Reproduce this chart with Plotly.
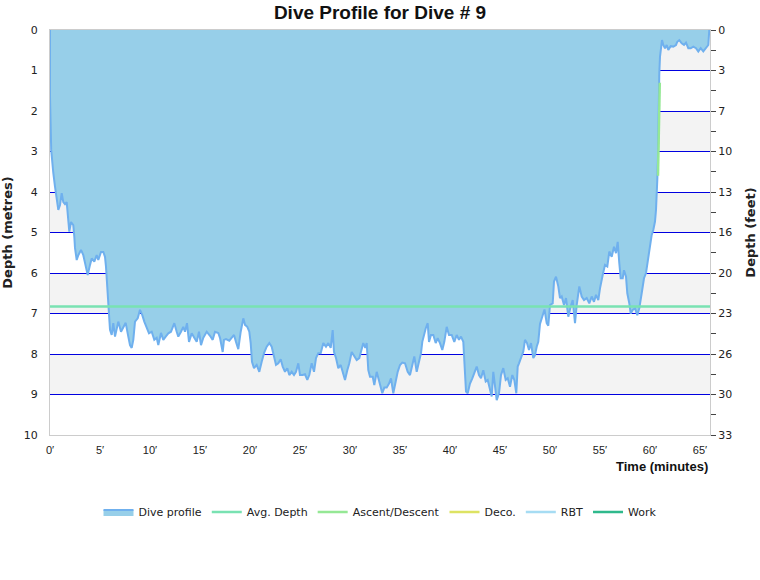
import plotly.graph_objects as go

# ---- data ----
time_min = [0.0, 0.0, 0.12, 0.23, 0.33, 0.5, 0.67, 0.83, 1.0, 1.17, 1.33, 1.5, 1.67, 1.83, 1.93, 2.1, 2.33, 2.43, 2.5, 2.67, 2.83,
            3.1, 3.33, 3.5, 3.77, 4.0, 4.17, 4.43, 4.67, 4.83, 5.1, 5.33, 5.5, 5.6, 5.7, 5.77, 5.9, 6.0, 6.17, 6.33, 6.5,
            6.67, 6.83, 7.1, 7.33, 7.57, 7.83, 8.0, 8.17, 8.33, 8.5, 8.77, 9.0, 9.23, 9.43, 9.67, 9.9, 10.17, 10.43, 10.67,
            10.83, 11.1, 11.33, 11.57, 11.83, 12.1, 12.43, 12.67, 12.83, 13.1, 13.33, 13.5, 13.7, 13.9, 14.17, 14.43,
            14.67, 14.9, 15.1, 15.33, 15.67, 16.0, 16.27, 16.5, 16.83, 17.0, 17.27, 17.4, 17.6, 17.93, 18.17, 18.4, 18.6,
            18.83, 19.07, 19.33, 19.5, 19.73, 19.93, 20.07, 20.2, 20.4, 20.67, 20.93, 21.17, 21.4, 21.67, 21.93, 22.17,
            22.4, 22.6, 22.83, 23.07, 23.27, 23.5, 23.73, 23.93, 24.17, 24.4, 24.6, 24.83, 25.0, 25.27, 25.5, 25.73,
            25.93, 26.17, 26.4, 26.6, 26.83, 27.07, 27.33, 27.6, 27.83, 28.07, 28.27, 28.4, 28.6, 28.83, 29.07, 29.27,
            29.5, 29.73, 29.93, 30.17, 30.4, 30.67, 30.93, 31.17, 31.33, 31.53, 31.67, 31.83, 32.0, 32.27, 32.43, 32.67,
            32.85, 33.0, 33.23, 33.43, 33.67, 33.9, 34.1, 34.33, 34.57, 34.77, 35.0, 35.23, 35.5, 35.77, 36.0, 36.23,
            36.43, 36.67, 36.9, 37.1, 37.23, 37.43, 37.57, 37.77, 37.9, 38.1, 38.33, 38.57, 38.77, 39.0, 39.23, 39.43,
            39.67, 39.9, 40.17, 40.43, 40.67, 40.9, 41.1, 41.33, 41.5, 41.6, 41.77, 42.0, 42.23, 42.43, 42.67, 42.9,
            43.1, 43.33, 43.57, 43.77, 44.0, 44.17, 44.33, 44.5, 44.67, 44.9, 45.1, 45.33, 45.57, 45.77, 46.0, 46.23,
            46.43, 46.63, 46.77, 46.9, 47.1, 47.33, 47.5, 47.7, 47.9, 48.1, 48.33, 48.5, 48.67, 48.83, 49.0, 49.23,
            49.45, 49.67, 49.83, 50.0, 50.27, 50.4, 50.6, 50.83, 51.0, 51.17, 51.4, 51.6, 51.83, 52.07, 52.27, 52.5,
            52.67, 52.93, 53.17, 53.4, 53.67, 53.93, 54.17, 54.4, 54.6, 54.83, 55.0, 55.27, 55.5, 55.73, 55.93, 56.17,
            56.4, 56.6, 56.77, 56.93, 57.07, 57.27, 57.4, 57.6, 57.73, 57.93, 58.07, 58.27, 58.5, 58.73, 58.93, 59.17,
            59.4, 59.6, 59.73, 59.93, 60.07, 60.17, 60.33, 60.5, 60.6, 60.67, 60.73, 60.8, 60.83, 60.9, 60.93, 61.0,
            61.1, 61.2, 61.33, 61.5, 61.67, 61.83, 62.07, 62.33, 62.6, 62.73, 62.93, 63.17, 63.4, 63.6, 63.83, 64.07,
            64.33, 64.6, 64.83, 65.07, 65.33, 65.6, 65.83, 65.93]
depth_m = [0.0, 1.65, 2.96, 3.3, 3.53, 3.87, 4.15, 4.44, 4.32, 4.03, 4.25, 4.3, 4.25, 4.69, 4.98, 4.74, 4.82, 5.1, 5.38, 5.68, 5.56,
           5.43, 5.56, 5.75, 6.05, 5.8, 5.64, 5.72, 5.56, 5.68, 5.48, 5.48, 5.6, 5.85, 6.25, 6.67, 7.2, 7.4, 7.53, 7.24, 7.57,
           7.41, 7.2, 7.45, 7.33, 7.23, 7.57, 7.78, 7.85, 7.65, 7.2, 7.12, 6.91, 7.04, 7.2, 7.33, 7.49, 7.45, 7.65, 7.6,
           7.78, 7.48, 7.65, 7.57, 7.49, 7.45, 7.24, 7.45, 7.57, 7.45, 7.33, 7.45, 7.24, 7.7, 7.49, 7.6,
           7.7, 7.45, 7.78, 7.6, 7.45, 7.55, 7.65, 7.45, 7.48, 7.6, 7.95, 7.65, 7.63, 7.67, 7.6, 7.53, 7.7,
           7.88, 7.45, 7.12, 7.28, 7.33, 7.45, 7.73, 8.19, 8.35, 8.27, 8.44, 8.19, 7.98, 7.82, 7.73, 7.82,
           8.03, 8.27, 8.23, 8.13, 8.31, 8.44, 8.35, 8.52, 8.44, 8.52, 8.44, 8.23, 8.52, 8.52, 8.5, 8.64,
           8.52, 8.23, 8.44, 8.1, 7.98, 7.98, 7.73, 7.82, 7.73, 7.85, 7.41, 7.95, 8.1, 8.35, 8.27, 8.44,
           8.64, 8.4, 8.23, 7.95, 8.03, 8.15, 8.1, 7.9, 7.73, 7.85, 7.73, 8.4, 8.56, 8.56, 8.77, 8.44,
           8.6, 8.77, 8.97, 8.83, 8.83, 8.73, 8.6, 8.97, 8.64, 8.44, 8.27, 8.21, 8.23, 8.44, 8.52, 8.31,
           8.06, 8.44, 8.15, 7.98, 7.7, 7.49, 7.37, 7.24, 7.7, 7.53, 7.53, 7.73, 7.61, 7.73, 7.9, 7.7,
           7.33, 7.53, 7.53, 7.7, 7.53, 7.65, 7.57, 7.7, 8.44, 8.93, 8.97, 8.73, 8.6, 8.44, 8.31, 8.52,
           8.6, 8.4, 8.68, 8.64, 8.89, 9.05, 8.44, 8.73, 9.14, 8.97, 8.52, 8.35, 8.64, 8.6, 8.81, 8.52,
           8.64, 8.97, 8.31, 8.23, 8.1, 7.94, 7.65, 7.73, 7.9, 7.73, 8.1, 8.03, 7.82, 7.7, 7.26, 7.1,
           6.9, 7.24, 7.3, 6.79, 6.75, 6.21, 6.09, 6.33, 6.62, 6.58, 6.79, 6.62, 7.08, 6.83, 6.67, 7.24,
           6.79, 6.33, 6.58, 6.67, 6.62, 6.75, 6.58, 6.71, 6.54, 6.67, 6.38, 6.05, 5.8, 5.84, 5.47, 5.6,
           5.35, 5.51, 5.23, 5.76, 6.13, 6.13, 5.93, 6.09, 6.5, 6.75, 7.0, 6.91, 6.87, 7.04, 6.87, 6.5,
           6.13, 6.0, 5.76, 5.47, 5.27, 5.06, 4.94, 4.73, 4.44, 4.12, 3.7, 3.13, 2.47, 1.65, 1.07, 0.66,
           0.49, 0.25, 0.37, 0.45, 0.37, 0.49, 0.4, 0.41, 0.37, 0.29, 0.25, 0.33, 0.37, 0.31, 0.45, 0.45,
           0.41, 0.45, 0.53, 0.45, 0.53, 0.45, 0.37, 0.0]

avg_depth_m = 6.83
avg_time = [0, 66]
ascent_time = [60.8, 60.98]
ascent_depth = [3.6, 1.3]

metre_ticks = list(range(0, 11))
feet_labels = ["0", "3", "7", "10", "13", "16", "20", "23", "26", "30", "33"]
time_ticks = list(range(0, 70, 5))
time_labels = [f"{t}\u2032" for t in time_ticks]

title_text = "Dive Profile for Dive # 9"

FONT = "DejaVu Sans, Verdana, sans-serif"

fig = go.Figure()

# grey bands behind everything
for b in range(0, 10, 2):
    fig.add_shape(type="rect", xref="paper", yref="y", x0=0, x1=1, y0=b, y1=b + 1,
                  fillcolor="#f3f3f3", line_width=0, layer="below")

fig.add_trace(go.Scatter(x=time_min, y=depth_m, name="Dive profile", mode="lines",
                         fill="tozeroy", fillcolor="#97cfe9",
                         line=dict(color="#6fb0ee", width=2), hoverinfo="x+y"))
fig.add_trace(go.Scatter(x=avg_time, y=[avg_depth_m, avg_depth_m], name="Avg. Depth", mode="lines",
                         line=dict(color="#79e2b2", width=2.5)))
fig.add_trace(go.Scatter(x=ascent_time, y=ascent_depth, name="Ascent/Descent", mode="lines",
                         line=dict(color="#95e895", width=2.5)))
fig.add_trace(go.Scatter(x=[None], y=[None], name="Deco.", mode="lines",
                         line=dict(color="#dde362", width=2.5)))
fig.add_trace(go.Scatter(x=[None], y=[None], name="RBT", mode="lines",
                         line=dict(color="#a6dcf3", width=2.5)))
fig.add_trace(go.Scatter(x=[None], y=[None], name="Work", mode="lines",
                         line=dict(color="#2fb98c", width=2.5)))
# invisible trace to anchor the feet axis
fig.add_trace(go.Scatter(x=[None], y=[None], yaxis="y2", showlegend=False, hoverinfo="skip"))

fig.update_layout(
    width=760, height=580,
    margin=dict(l=50, r=50, t=30, b=145, autoexpand=False),
    paper_bgcolor="white", plot_bgcolor="white",
    font=dict(family=FONT, size=11, color="#222"),
    title=dict(text=f"<b>{title_text}</b>", x=0.5, xanchor="center", y=0.979, yanchor="middle",
               font=dict(family="Liberation Sans, Arial, sans-serif", size=19, color="#111")),
    showlegend=True,
    legend=dict(orientation="h", x=0.5, xanchor="center", y=-0.19, yanchor="middle",
                font=dict(family=FONT, size=11, color="#222"), itemwidth=30,
                traceorder="normal"),
    xaxis=dict(range=[0, 66], tickvals=time_ticks, ticktext=time_labels, automargin=False,
               showgrid=False, zeroline=False, showline=True, linecolor="#cccccc", linewidth=1,
               mirror=True, ticks="outside", ticklen=5, tickcolor="rgba(0,0,0,0)",
               tickfont=dict(family="Liberation Sans, Arial, sans-serif", size=11, color="#222")),
    yaxis=dict(range=[10, 0], tickvals=metre_ticks, showgrid=True, gridcolor="#0000e0", gridwidth=1,
               zeroline=False, showline=True, linecolor="#cccccc", mirror=True, automargin=False,
               ticks="outside", ticklen=9, tickcolor="rgba(0,0,0,0)",
               title=dict(text="<b>Depth (metres)</b>", standoff=8,
                          font=dict(family=FONT, size=13, color="#222"))),
    yaxis2=dict(range=[10, 0], overlaying="y", side="right", tickvals=metre_ticks, ticktext=feet_labels,
                showgrid=False, zeroline=False, showline=False, automargin=False,
                ticks="outside", ticklen=5, tickcolor="#444",
                minor=dict(dtick=0.5, ticks="outside", ticklen=5, tickcolor="#444", showgrid=False),
                title=dict(text="<b>Depth (feet)</b>", standoff=14,
                           font=dict(family=FONT, size=13, color="#222"))),
    annotations=[dict(text="<b>Time (minutes)</b>", xref="paper", yref="paper", x=1.0, y=-0.077,
                      xanchor="right", yanchor="middle", showarrow=False,
                      font=dict(family="Liberation Sans, Arial, sans-serif", size=13, color="#111"))],
)

fig.write_html("out.html")
